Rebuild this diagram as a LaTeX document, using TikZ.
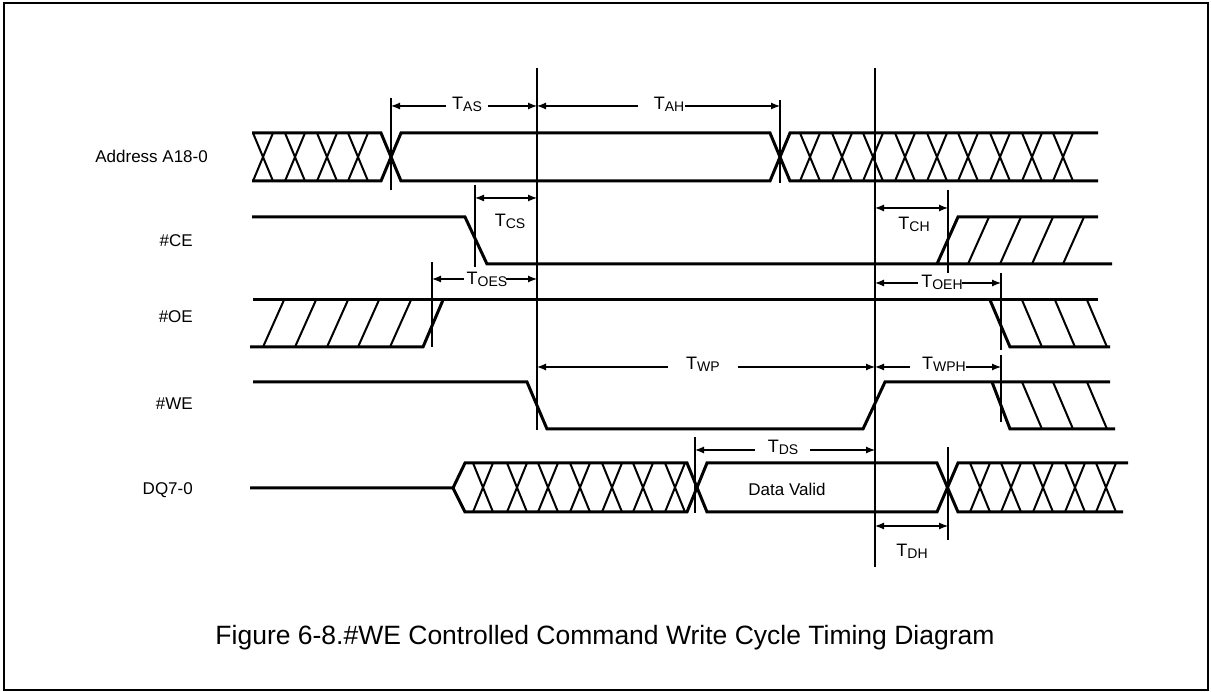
\documentclass[tikz,border=0pt]{standalone}
\usepackage{fontspec}
\setmainfont{Liberation Sans}
\usetikzlibrary{arrows.meta}
\newcommand{\tsym}[1]{T\raisebox{-2pt}{\fontsize{14}{14}\selectfont #1}}
\begin{document}
\begin{tikzpicture}[x=1pt,y=-1pt,
  sig/.style={line width=3pt},
  hx/.style={line width=2pt},
  mk/.style={line width=1.2pt},
  tipr/.style={line width=1.2pt,-{Latex[length=9pt,width=7pt]}},
  bothtip/.style={line width=1.2pt,{Latex[length=9pt,width=7pt]}-{Latex[length=9pt,width=7pt]}},
  lab/.style={inner sep=0pt, anchor=base, font=\fontsize{18}{20}\selectfont},
  rowlab/.style={inner sep=0pt, anchor=base east, font=\fontsize{17}{20}\selectfont},
]
\useasboundingbox (0,0) rectangle (1211,692);
\draw[line width=2pt] (3.5,3.5) rectangle (1207.5,689.5);

% ---------- row labels
\node[rowlab] (lAddr) at (208,163) {Address A18-0};
\node[rowlab] (lCE) at (193,247) {\#CE};
\node[rowlab] (lOE) at (193,323) {\#OE};
\node[rowlab] (lWE) at (193,410) {\#WE};
\node[rowlab] (lDQ) at (193,495) {DQ7-0};

% ---------- Address
\draw[sig] (252,133) -- (381,133) -- (401,181) -- (770,181) -- (790,133) -- (1098,133);
\draw[sig] (252,181) -- (381,181) -- (401,133) -- (770,133) -- (790,181) -- (1098,181);
\foreach \c in {263,295,327,358,810,842,873,905,937,968,1000,1032,1063}
  \draw[hx] (\c-10,133) -- (\c+10,181) (\c-10,181) -- (\c+10,133);

% ---------- #CE
\draw[sig] (252,217) -- (465,217) -- (487,264) -- (1112,264);
\draw[sig] (937,264) -- (958,217) -- (1098,217);
\foreach \c in {968,1000,1032,1063} \draw[hx] (\c,264) -- (\c+21,217);

% ---------- #OE
\draw[sig] (253,300) -- (1098,300);
\draw[sig] (250,347) -- (423,347) -- (443,300);
\foreach \c in {263,295,327,358,390} \draw[hx] (\c,347) -- (\c+21,300);
\draw[sig] (990,300) -- (1010,347) -- (1110,347);
\foreach \c in {1022,1055,1087} \draw[hx] (\c,300) -- (\c+20,347);

% ---------- #WE
\draw[sig] (253,382) -- (527,382) -- (547,429) -- (863,429) -- (885,382) -- (1110,382);
\draw[sig] (992,382) -- (1010,429) -- (1115,429);
\foreach \c in {1022,1053,1087} \draw[hx] (\c,382) -- (\c+20,429);

% ---------- DQ7-0
\draw[sig] (250,488) -- (453,488) -- (465,463) -- (687,463) -- (707,512) -- (937,512) -- (958,463) -- (1128,463);
\draw[sig] (453,488) -- (465,512) -- (687,512) -- (707,463) -- (937,463) -- (958,512) -- (1123,512);
\foreach \c in {483,517,548,580,612,643,675,980,1011,1043,1075,1106}
  \draw[hx] (\c-10,463) -- (\c+10,512) (\c-10,512) -- (\c+10,463);
\node[inner sep=0pt, anchor=base, font=\fontsize{17}{20}\selectfont] (dv) at (787,496) {Data Valid};

% ---------- marker lines
\draw[mk] (537,68) -- (537,430);
\draw[mk] (875,68) -- (875,567);
\draw[mk] (391,98) -- (391,190);
\draw[mk] (780,100) -- (780,183);
\draw[mk] (475,185) -- (475,267);
\draw[mk] (948,190) -- (948,273);
\draw[mk] (432,262) -- (432,347);
\draw[mk] (1001,273) -- (1001,350);
\draw[mk] (1001,355) -- (1001,422);
\draw[mk] (695,437) -- (695,513);
\draw[mk] (948,447) -- (948,540);

% ---------- timing labels
\node[lab] (tAS) at (467,110) {\tsym{AS}};
\node[lab] (tAH) at (669,110) {\tsym{AH}};
\node[lab] (tCS) at (510,227) {\tsym{CS}};
\node[lab] (tCH) at (914,230) {\tsym{CH}};
\node[lab] (tOES) at (487,285) {\tsym{OES}};
\node[lab] (tOEH) at (942,288) {\tsym{OEH}};
\node[lab] (tWP) at (703,370) {\tsym{WP}};
\node[lab] (tWPH) at (944,370) {\tsym{WPH}};
\node[lab] (tDS) at (783,453) {\tsym{DS}};
\node[lab] (tDH) at (912,556) {\tsym{DH}};

% ---------- dimension arrows
\draw[tipr] (446,106) -- (391,106);
\draw[tipr] (488,106) -- (537,106);
\draw[tipr] (638,106) -- (537,106);
\draw[tipr] (685,106) -- (780,106);
\draw[bothtip] (475,198) -- (537,198);
\draw[bothtip] (875,208) -- (948,208);
\draw[tipr] (464,279) -- (432,279);
\draw[tipr] (506,279) -- (537,279);
\draw[tipr] (918,283) -- (875,283);
\draw[tipr] (962,283) -- (1001,283);
\draw[tipr] (668,367) -- (537,367);
\draw[tipr] (738,367) -- (875,367);
\draw[tipr] (910,367) -- (875,367);
\draw[tipr] (966,367) -- (1001,367);
\draw[tipr] (755,450) -- (695,450);
\draw[tipr] (810,450) -- (875,450);
\draw[bothtip] (875,526) -- (948,526);

% ---------- caption
\node[inner sep=0pt, anchor=base, font=\fontsize{26.5}{30}\selectfont] (cap) at (605,644)
  {Figure 6-8.\#WE Controlled Command Write Cycle Timing Diagram};
\end{tikzpicture}
\end{document}
